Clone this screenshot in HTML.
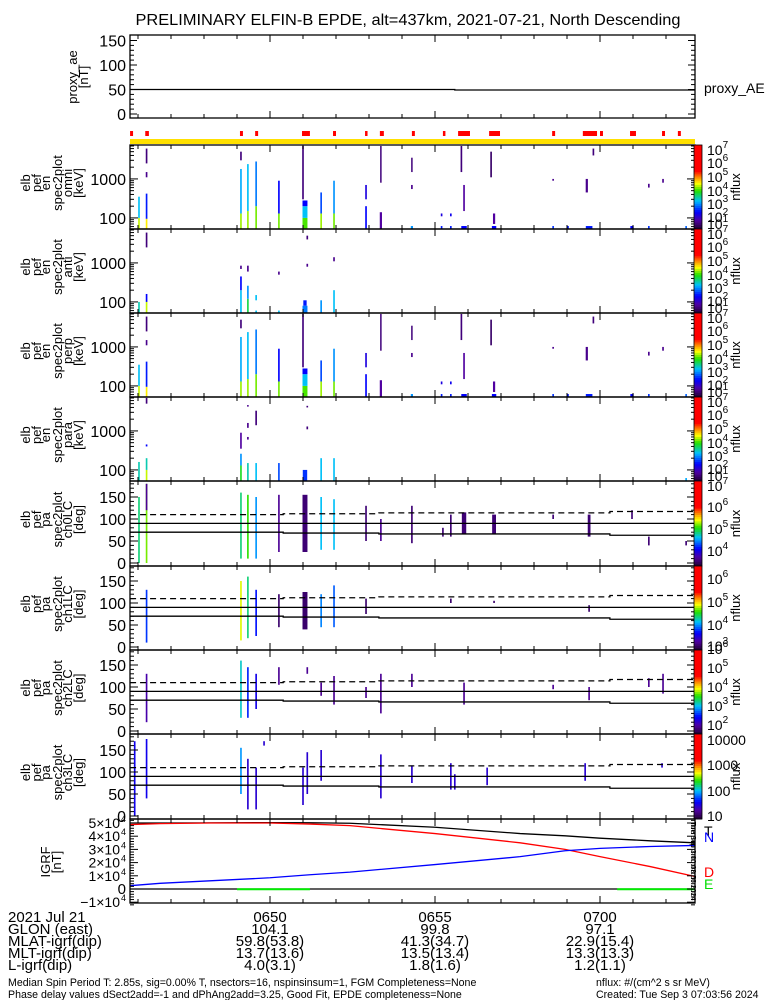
<!DOCTYPE html>
<html><head><meta charset="utf-8">
<style>
html,body{margin:0;padding:0;background:#fff;}
svg{display:block;font-family:"Liberation Sans",sans-serif;}
</style></head>
<body>
<svg id="chart" width="775" height="1000" viewBox="0 0 775 1000" xmlns="http://www.w3.org/2000/svg">
<text x="408" y="25" font-size="16" text-anchor="middle" textLength="545" lengthAdjust="spacingAndGlyphs">PRELIMINARY ELFIN-B EPDE, alt=437km, 2021-07-21, North Descending</text>
<g id="layer"></g>
</svg>
<script>
// ---- data ----
const tStart = 0.76, tEnd = 17.88; // minutes after 06:45
const timeTickLabels = ["0650","0655","0700"];
const timeTickValues = [5,10,15];
const glonRow = ["104.1","99.8","97.1"];
const mlatRow = ["59.8(53.8)","41.3(34.7)","22.9(15.4)"];
const mltRow = ["13.7(13.6)","13.5(13.4)","13.3(13.3)"];
const lRow = ["4.0(3.1)","1.8(1.6)","1.2(1.1)"];
const proxyAeTimes = [0.76, 10.6, 10.6, 17.88];
const proxyAeValues = [50, 50, 49, 49];
const spinFlagStarts = [0.76,1.22,4.09,4.55,5.97,6.91,7.88,8.33,9.30,10.24,10.70,11.64,13.55,14.48,15.00,15.91,16.88,17.36];
const spinFlagEnds   = [0.85,1.33,4.18,4.64,6.21,7.00,7.94,8.45,9.39,10.30,11.06,11.97,13.64,14.91,15.09,16.09,16.97,17.45];
const omniStreaks = [
[1.03,52,100,4.1,3],[1.03,100,350,3.0,3],[1.26,52,95,4.3,3],[1.26,95,420,2.3,3],[1.26,1100,1500,1.5,3],[1.26,2500,6000,1.4,3],
[4.12,52,130,4.0,3],[4.12,130,1800,2.9,3],[4.12,3000,5000,1.4,3],[4.33,52,150,4.0,3],[4.33,150,2400,3.0,3],
[4.58,52,200,3.9,3],[4.58,200,2800,2.7,3],[5.27,52,130,3.9,3],[5.27,130,900,2.2,3],
[6.06,52,100,3.8,9],[6.06,100,200,3.0,9],[6.06,200,280,2.2,9],[6.00,300,7000,1.4,3],
[6.55,52,130,4.0,3],[6.55,130,450,2.5,3],[6.94,52,130,3.9,3],[6.94,130,900,2.8,3],
[7.91,52,200,2.2,3],[7.91,300,700,2.0,3],[8.36,52,140,1.6,4],[8.36,800,7000,1.4,2],
[9.30,52,62,2.8,4],[9.30,550,700,1.5,3],[9.30,1500,3500,1.4,2],
[10.20,52,62,2.3,3],[10.20,110,130,2.0,3],[10.48,52,62,2.3,3],[10.48,110,130,2.1,3],
[10.88,52,62,2.2,10],[10.88,150,700,1.6,3],[10.80,1500,7000,1.4,3],
[11.79,52,62,2.2,8],[11.79,70,130,1.6,4],[11.70,1100,5000,1.3,3],
[13.58,52,62,2.4,3],[13.58,900,1000,1.5,3],[14.03,52,62,2.3,3],
[14.67,52,62,2.3,12],[14.60,450,1000,1.5,4],[14.80,4000,6000,1.4,3],
[15.97,52,62,2.2,6],[16.48,52,62,2.4,3],[16.48,600,750,1.5,3],[16.91,800,1000,1.5,3],[17.61,52,62,2.6,3]];
const antiStreaks = [
[1.03,52,100,3.2,3],[1.26,52,100,4.1,3],[1.26,100,160,2.2,3],[1.26,2500,6000,1.4,3],
[4.12,52,200,3.0,3],[4.12,200,450,2.2,3],[4.12,700,850,1.5,3],[4.33,52,120,3.5,3],[4.33,120,260,2.8,3],[4.33,600,850,1.5,3],
[4.58,52,60,3.0,3],[4.58,110,150,3.0,3],[5.27,52,60,3.0,3],[5.27,500,600,1.5,3],
[6.06,52,80,2.7,9],[6.06,80,110,2.3,6],[6.13,800,950,1.5,3],[6.13,4000,5000,1.4,3],[6.55,52,110,2.8,3],[6.94,52,200,3.0,3],[6.94,1100,1400,1.5,3]];
const perpStreaks = omniStreaks;
const paraStreaks = [
[1.03,52,160,3.2,3],[1.26,52,100,4.1,3],[1.26,100,200,3.2,3],[1.26,400,450,2.2,3],[1.26,5000,7000,1.4,3],
[4.12,52,130,3.6,3],[4.12,130,260,2.8,3],[4.12,350,900,1.6,3],[4.33,52,150,3.2,3],[4.33,600,700,1.5,3],[4.33,1200,1600,1.5,3],[4.33,4200,4600,1.5,3],
[4.58,52,150,3.0,3],[4.58,1400,3300,1.4,3],[5.27,52,150,2.5,3],
[6.06,52,100,2.4,8],[6.13,1100,1300,1.4,3],[6.13,4000,4400,1.4,3],[6.55,52,200,3.0,3],[6.94,52,200,3.0,3],[17.61,52,62,2.9,3]];
const ch0Streaks = [
[1.03,0,150,5.0,3],[1.26,0,180,5.3,3],[1.26,120,180,4.0,3],[4.12,10,160,5.0,3],[4.33,10,155,5.2,3],[4.58,10,150,4.7,3],
[5.27,25,155,4.0,3],[6.06,25,155,3.9,9],[6.55,30,150,4.8,3],[6.94,30,145,4.8,3],[7.91,50,130,3.9,3],[8.36,50,100,4.0,3],
[9.30,45,130,3.9,3],[10.24,60,80,3.9,3],[10.48,60,110,3.9,3],[10.88,65,115,3.9,8],[11.79,65,110,3.9,7],[13.58,100,110,3.9,3],
[14.67,60,110,3.9,5],[15.97,100,120,3.9,3],[16.48,40,60,3.9,3],[17.61,40,50,3.9,3]];
const ch1Streaks = [
[1.26,10,130,3.7,3],[4.12,15,150,4.8,3],[4.33,20,160,4.3,3],[4.58,25,130,3.6,3],[5.27,45,120,3.0,3],[6.06,40,125,3.0,9],
[6.55,45,120,3.9,3],[6.94,45,140,3.8,3],[7.91,75,110,3.0,3],[10.48,100,110,3.0,3],[11.79,100,105,3.0,3],[14.67,80,95,3.0,3]];
const ch2Streaks = [
[1.26,20,130,2.3,3],[4.12,30,160,3.4,3],[4.33,30,145,2.8,3],[4.58,50,130,2.6,3],[5.27,105,145,2.2,3],[6.13,130,145,2.2,3],
[6.55,80,110,2.2,3],[6.94,60,125,2.2,3],[7.91,75,100,2.2,3],[8.36,40,130,2.2,3],[9.30,100,130,2.2,3],[10.88,60,110,2.2,3],
[13.58,95,105,2.2,3],[14.67,70,100,2.2,3],[16.48,100,120,2.2,3],[16.91,85,130,2.2,3]];
const ch3Streaks = [
[0.90,0,170,1.6,3],[1.26,40,175,1.6,3],[4.12,50,155,2.0,3],[4.33,15,130,1.5,3],[4.58,15,110,1.5,3],[4.82,160,170,1.5,3],
[6.00,25,110,1.5,3],[6.13,50,145,1.5,3],[6.55,80,150,1.5,3],[8.36,40,140,1.5,3],[9.30,75,115,1.5,3],
[10.48,60,120,1.5,3],[10.60,60,95,1.5,3],[11.58,70,110,1.5,3],[14.55,80,120,1.5,3],[16.88,110,120,1.5,3]];
const lossConeTimes = [0.76,2.3,5.4,7.2,8.3,12.9,15.3,17.88];
const lossConeValues = [70,70,68,68,66,66,63,63];
const igrfTimes = [0.76,1.67,3.18,5.0,6.21,7.42,10.0,12.58,13.94,15.0,16.52,17.88];
const igrfT = [50000,50000,50100,50300,50200,49800,46800,42000,40300,38500,36500,35000];
const igrfD = [48800,49500,50000,50000,49200,48000,42000,35000,30000,24500,17000,9500];
const igrfN = [2500,4300,6200,8500,10800,12800,18500,24500,29000,30800,32200,33000];
const igrfE = [0,0,0,-150,-150,0,0,0,0,0,-150,-150];
const igrfTicks = [-1,0,1,2,3,4,5];

// ---- helpers ----
const NS = "http://www.w3.org/2000/svg";
const layer = document.getElementById('layer');
const X0 = 130, X1 = 695;
function x(t){ return 270 + (t - 5) * 33; }
function mk(tag, attrs, parent){
  const e = document.createElementNS(NS, tag);
  for (const k in attrs) e.setAttribute(k, attrs[k]);
  (parent || layer).appendChild(e);
  return e;
}
function txt(s, xx, yy, size, anchor, parent, fill){
  const e = mk('text', {x:xx, y:yy, 'font-size':size, 'text-anchor':anchor||'start', fill:fill||'#000'}, parent);
  e.textContent = s; return e;
}
const stops = [[0,[32,0,48]],[0.1,[80,0,160]],[0.2,[0,0,255]],[0.33,[0,192,255]],[0.45,[32,224,0]],[0.54,[255,255,0]],[0.61,[255,144,0]],[0.69,[255,0,0]],[1,[255,0,0]]];
function cmap(f){
  f = Math.max(0, Math.min(1, f));
  for (let i = 1; i < stops.length; i++){
    if (f <= stops[i][0]){
      const a = stops[i-1], b = stops[i], u = (f - a[0]) / (b[0] - a[0]);
      const c = a[1].map((v, j) => Math.round(v + (b[1][j] - v) * u));
      return `rgb(${c[0]},${c[1]},${c[2]})`;
    }
  }
  return 'red';
}
function timeTicks(g, top, bot){
  for (let m = 1; m <= 17; m++){
    const xx = x(m), major = (m % 5 === 0), L = major ? 7 : 4;
    mk('line', {x1:xx, x2:xx, y1:top, y2:top+L, stroke:'#000'}, g);
    mk('line', {x1:xx, x2:xx, y1:bot, y2:bot-L, stroke:'#000'}, g);
  }
}
function frame(g, top, bot){
  mk('rect', {x:X0, y:top, width:X1-X0, height:bot-top, fill:'none', stroke:'#000', 'stroke-width':1.3}, g);
}
function ylabel(g, lines, xs, cy){
  lines.forEach((s, i) => {
    const t = txt(s, 0, 0, 13, 'middle', g);
    t.setAttribute('transform', `translate(${xs[i]},${cy}) rotate(-90)`);
  });
}
function colorbar(g, top, bot, labels, ys){
  const n = 40, h = (bot - top) / n;
  for (let i = 0; i < n; i++){
    mk('rect', {x:694, y:top + i*h, width:8, height:h+0.5, fill:cmap(1 - (i+0.5)/n)}, g);
  }
  mk('rect', {x:694, y:top, width:8, height:bot-top, fill:'none', stroke:'#000', 'stroke-width':0.8}, g);
  labels.forEach((l, i) => {
    const t = txt(l[0], 707, ys[i]+1, 14, 'start', g);
    if (l[1]){ const s = mk('tspan', {dy:-7, 'font-size':10}, t); s.textContent = l[1]; }
  });
  const nf = txt('nflux', 0, 0, 13, 'middle', g);
  nf.setAttribute('transform', `translate(740,${(top+bot)/2}) rotate(-90)`);
}

// ---- proxy AE panel ----
(function(){
  const g = mk('g', {});
  
  
  const top = 35, bot = 118;
  const y = v => 114 - v * 0.49;
  frame(g, top, bot); timeTicks(g, top, bot);
  [0,50,100,150].forEach(v => { mk('line',{x1:X0,x2:X0+7,y1:y(v),y2:y(v),stroke:'#000'},g); mk('line',{x1:X1,x2:X1-7,y1:y(v),y2:y(v),stroke:'#000'},g); txt(String(v),126,y(v)+6,16,'end',g); });
  for (let v = 10; v < 160; v += 10){ if (v % 50) { mk('line',{x1:X0,x2:X0+4,y1:y(v),y2:y(v),stroke:'#000'},g); mk('line',{x1:X1,x2:X1-4,y1:y(v),y2:y(v),stroke:'#000'},g);} }
  const pts = proxyAeTimes.map((t, i) => `${x(t)},${y(proxyAeValues[i])}`).join(' ');
  const pl = mk('polyline', {points:pts, fill:'none', stroke:'#000', 'stroke-width':1.3}, g);
  
  
  ylabel(g, ['proxy_ae','[nT]'], [77,88], 77);
  const lg = txt('proxy_AE', 704, 93, 14, 'start', g);
  
  
})();

// ---- spin flags ----
(function(){
  const g = mk('g', {});
  
  
  spinFlagStarts.forEach((s, i) => {
    const r = mk('rect', {x:x(s), y:131, width:Math.max(2.5, x(spinFlagEnds[i]) - x(s)), height:5, fill:'#ff0000'}, g);
    
    
  });
  const yb = mk('rect', {x:X0, y:139, width:X1-X0, height:5, fill:'#ffe000'}, g);
  
  
})();

// ---- energy spectrogram panels ----
const enPanels = [[145,229,'omni',omniStreaks],[229,313,'anti',antiStreaks],[313,397,'perp',perpStreaks],[397,481,'para',paraStreaks]];
const enCbLabels = [['10','7'],['10','6'],['10','5'],['10','4'],['10','3'],['10','2'],['10','1']];
enPanels.forEach(p => {
  const [top, bot, name, data] = p;
  const g = mk('g', {});
  
  
  const y = E => bot - (Math.log10(E) - 1.716) * 39;
  data.forEach(d => {
    const [t, lo, hi, lf, dur] = d;
    const w = Math.max(1.5, dur / 60 * 33);
    const r = mk('rect', {x:x(t) - w/2, y:y(hi), width:w, height:Math.max(1, y(lo) - y(hi)), fill:cmap((lf - 1) / 6)}, g);
    
    
  });
  frame(g, top, bot); timeTicks(g, top, bot);
  for (let dec = 10; dec <= 1000; dec *= 10){
    for (let k = 1; k <= 9; k++){
      const v = dec * k; if (v < 52 || v > 7400) continue;
      const L = k === 1 ? 8 : 4;
      mk('line',{x1:X0,x2:X0+L,y1:y(v),y2:y(v),stroke:'#000'},g);
      mk('line',{x1:X1,x2:X1-L,y1:y(v),y2:y(v),stroke:'#000'},g);
    }
  }
  txt('100',126,y(100)+6,16,'end',g); txt('1000',126,y(1000)+6,16,'end',g);
  ylabel(g, ['elb','pef','en','spec2plot',name,'[keV]'], [30,41,50,62,72,83], (top+bot)/2 - 4);
  colorbar(g, top, bot, enCbLabels, [top+9,top+22,top+36,top+50,top+63,top+76,top+83]);
});

// ---- pitch angle panels ----
const paPanels = [
 [481,566,'ch0LC',ch0Streaks,3.7,7.0,[['10','7'],['10','6'],['10','5'],['10','4']],[9,30,52,74]],
 [566,650,'ch1LC',ch1Streaks,2.8,6.6,[['10','6'],['10','5'],['10','4'],['10','3']],[17,40,63,84]],
 [650,734,'ch2LC',ch2Streaks,1.8,6.3,[['10','6'],['10','5'],['10','4'],['10','3'],['10','2']],[3,22,41,60,79]],
 [734,819,'ch3LC',ch3Streaks,1.0,4.3,[['10000',''],['1000',''],['100',''],['10','']],[10,35,61,86]]];
paPanels.forEach(p => {
  const [top, bot, name, data, fmin, fmax, cbl, cby] = p;
  const g = mk('g', {});
  
  
  const y = a => bot - 3 - a * 0.44;
  data.forEach(d => {
    const [t, lo, hi, lf, dur] = d;
    const w = Math.max(1.5, dur / 60 * 33);
    const r = mk('rect', {x:x(t) - w/2, y:y(hi), width:w, height:Math.max(1, y(lo) - y(hi)), fill:cmap((lf - fmin) / (fmax - fmin))}, g);
    
    
  });
  const l90 = mk('line', {x1:X0, x2:X1, y1:y(90), y2:y(90), stroke:'#000', 'stroke-width':1.3}, g);
  
  
  let lc = '', alc = '';
  lossConeTimes.forEach((t, i) => {
    const yy = y(lossConeValues[i]), ya = y(180 - lossConeValues[i]);
    if (i > 0){ lc += ` ${x(t)},${y(lossConeValues[i-1])}`; alc += ` ${x(t)},${y(180 - lossConeValues[i-1])}`; }
    lc += ` ${x(t)},${yy}`; alc += ` ${x(t)},${ya}`;
  });
  const lcl = mk('polyline', {points:lc, fill:'none', stroke:'#000', 'stroke-width':1.3}, g);
  
  
  const acl = mk('polyline', {points:alc, fill:'none', stroke:'#000', 'stroke-width':1.3, 'stroke-dasharray':'6,4'}, g);
  
  
  frame(g, top, bot); timeTicks(g, top, bot);
  for (let a = 0; a <= 180; a += 10){
    const L = a % 50 === 0 ? 8 : 4;
    mk('line',{x1:X0,x2:X0+L,y1:y(a),y2:y(a),stroke:'#000'},g);
    mk('line',{x1:X1,x2:X1-L,y1:y(a),y2:y(a),stroke:'#000'},g);
  }
  [0,50,100,150].forEach(a => txt(String(a),126,y(a)+6,16,'end',g));
  ylabel(g, ['elb','pef','pa','spec2plot',name,'[deg]'], [30,41,50,62,72,83], (top+bot)/2 - 4);
  colorbar(g, top, bot, cbl, cby.map(v => top + v));
});

// ---- IGRF panel ----
(function(){
  const g = mk('g', {});
  
  
  const top = 819, bot = 903;
  const y = v => 889 - v / 10000 * 13.2;
  const zl = mk('line', {x1:X0, x2:X1, y1:y(0), y2:y(0), stroke:'#000', 'stroke-width':1.3}, g);
  
  
  function step(vals, color, name){
    let pts = '';
    igrfTimes.forEach((t, i) => { pts += ` ${x(t)},${y(vals[i])}`; });
    const pl = mk('polyline', {points:pts, fill:'none', stroke:color, 'stroke-width':1.3}, g);
    
    
  }
  // E component: draw where it departs from zero
  for (let i = 1; i < igrfTimes.length; i++){
    if (igrfE[i] < 0 && igrfE[i-1] < 0){
      const el = mk('line', {x1:x(igrfTimes[i-1]) - 33, x2:x(igrfTimes[i]), y1:y(igrfE[i]), y2:y(igrfE[i]), stroke:'#00ee00', 'stroke-width':2}, g);
      
      
    }
  }
  step(igrfT, '#000', 'igrf-total-line');
  step(igrfD, '#ff0000', 'igrf-d-line');
  step(igrfN, '#0000ff', 'igrf-n-line');
  frame(g, top, bot); timeTicks(g, top, bot);
  for (let v = -12000; v <= 52000; v += 2000){
    const L = v % 10000 === 0 ? 8 : 4;
    mk('line',{x1:X0,x2:X0+L,y1:y(v),y2:y(v),stroke:'#000'},g);
    mk('line',{x1:X1,x2:X1-L,y1:y(v),y2:y(v),stroke:'#000'},g);
  }
  igrfTicks.forEach(k => {
    if (k === 0){ txt('0',126,y(0)+5,15,'end',g); return; }
    txt((k < 0 ? '\u2212' : '') + Math.abs(k) + '\u00d710', 120, y(k*10000)+5, 14, 'end', g);
    txt('4', 121, y(k*10000)-1, 9, 'start', g);
  });
  ylabel(g, ['IGRF','[nT]'], [50,61], 862);
  [['T',836,'#000'],['N',842,'#0000ff'],['D',877,'#ff0000'],['E',889,'#00dd00']].forEach(l => {
    const t = txt(l[0], 704, l[1], 14, 'start', g, l[2]);
    
    
  });
  const st = txt('Tue Sep  3 00:03:56 2024', 0, 0, 7, 'middle', g);
  st.setAttribute('transform', `translate(691,861) rotate(90)`);
})();

// ---- ephemeris rows ----
(function(){
  const g = mk('g', {});
  
  
  const rowNames = ['2021 Jul 21','GLON (east)','MLAT-igrf(dip)','MLT-igrf(dip)','L-igrf(dip)'];
  const rows = [timeTickLabels, glonRow, mlatRow, mltRow, lRow];
  rowNames.forEach((n, i) => {
    const yy = 922 + i * 12;
    txt(n, 8, yy, 15, 'start', g);
    rows[i].forEach((v, j) => txt(v, x(timeTickValues[j]), yy, 15, 'middle', g));
  });
  txt('Median Spin Period T: 2.85s, sig=0.00% T, nsectors=16, nspinsinsum=1, FGM Completeness=None', 8, 986, 10.6, 'start', g);
  txt('Phase delay values dSect2add=-1 and dPhAng2add=3.25, Good Fit, EPDE completeness=None', 8, 998, 10.6, 'start', g);
  txt('nflux: #/(cm^2 s sr MeV)', 596, 986, 10.6, 'start', g);
  txt('Created: Tue Sep  3 07:03:56 2024', 596, 998, 10.6, 'start', g);
})();
</script>
</body></html>
